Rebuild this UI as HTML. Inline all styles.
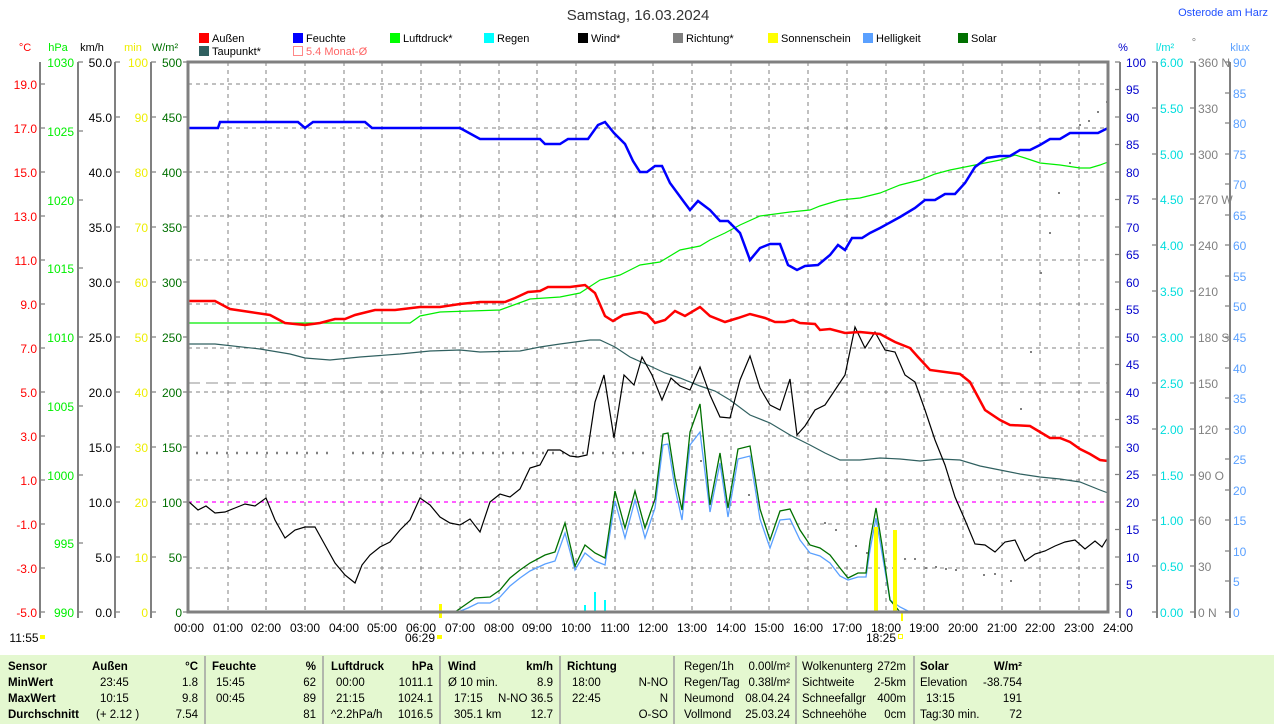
<!DOCTYPE html>
<html><head><meta charset="utf-8"><style>
body{margin:0;background:#fff;width:1274px;height:724px;overflow:hidden}
svg{display:block;font-family:"Liberation Sans",sans-serif}
</style></head><body>
<svg width="1274" height="724" viewBox="0 0 1274 724" xmlns="http://www.w3.org/2000/svg">
<rect width="1274" height="724" fill="#fff"/>
<text x="638" y="20" font-size="15" text-anchor="middle" fill="#333">Samstag, 16.03.2024</text>
<text x="1268" y="16" font-size="11" text-anchor="end" fill="#2050ff">Osterode am Harz</text>

<!-- legend -->
<g font-size="11" fill="#000">
<rect x="199" y="33" width="10" height="10" fill="#f00"/><text x="212" y="42">Außen</text>
<rect x="293" y="33" width="10" height="10" fill="#00f"/><text x="306" y="42">Feuchte</text>
<rect x="390" y="33" width="10" height="10" fill="#0f0"/><text x="403" y="42">Luftdruck*</text>
<rect x="484" y="33" width="10" height="10" fill="#0ff"/><text x="497" y="42">Regen</text>
<rect x="578" y="33" width="10" height="10" fill="#000"/><text x="591" y="42">Wind*</text>
<rect x="673" y="33" width="10" height="10" fill="#808080"/><text x="686" y="42">Richtung*</text>
<rect x="768" y="33" width="10" height="10" fill="#ff0"/><text x="781" y="42">Sonnenschein</text>
<rect x="863" y="33" width="10" height="10" fill="#5aa0ff"/><text x="876" y="42">Helligkeit</text>
<rect x="958" y="33" width="10" height="10" fill="#007000"/><text x="971" y="42">Solar</text>
<rect x="199" y="46" width="10" height="10" fill="#306060"/><text x="212" y="55">Taupunkt*</text>
<rect x="293.5" y="46.5" width="9" height="9" fill="none" stroke="#f88"/><text x="306" y="55" fill="#f66">5.4 Monat-Ø</text>
</g>

<!-- unit labels -->
<g font-size="11">
<text x="25" y="51" fill="#f00" text-anchor="middle">°C</text>
<text x="58" y="51" fill="#0e0" text-anchor="middle">hPa</text>
<text x="92" y="51" fill="#000" text-anchor="middle">km/h</text>
<text x="133" y="51" fill="#ee0" text-anchor="middle">min</text>
<text x="165" y="51" fill="#007000" text-anchor="middle">W/m²</text>
<text x="1123" y="51" fill="#00c" text-anchor="middle">%</text>
<text x="1165" y="51" fill="#0dd" text-anchor="middle">l/m²</text>
<text x="1194" y="46" fill="#808080" text-anchor="middle">°</text>
<text x="1240" y="51" fill="#5aa0ff" text-anchor="middle">klux</text>
</g>

<!-- axis lines -->
<g stroke="#808080" stroke-width="2">
<line x1="40" y1="62" x2="40" y2="618"/>
<line x1="78" y1="62" x2="78" y2="618"/>
<line x1="115" y1="62" x2="115" y2="618"/>
<line x1="151" y1="62" x2="151" y2="618"/>
<line x1="1120" y1="62" x2="1120" y2="618"/>
<line x1="1157" y1="62" x2="1157" y2="618"/>
<line x1="1195" y1="62" x2="1195" y2="618"/>
<line x1="1230" y1="62" x2="1230" y2="618"/>
</g>
<g stroke="#808080" stroke-width="1.3">
<path d="M40 84h5M40 128h5M40 172h5M40 216h5M40 260h5M40 304h5M40 348h5M40 392h5M40 436h5M40 480h5M40 524h5M40 568h5M40 612h5"/>
<path d="M78 62h5M78 131h5M78 200h5M78 268h5M78 337h5M78 406h5M78 475h5M78 543h5M78 612h5"/>
<path d="M115 62h5M115 117h5M115 172h5M115 227h5M115 282h5M115 337h5M115 392h5M115 447h5M115 502h5M115 557h5M115 612h5"/>
<path d="M151 62h5M151 117h5M151 172h5M151 227h5M151 282h5M151 337h5M151 392h5M151 447h5M151 502h5M151 557h5M151 612h5"/>
<path d="M183 62h5M183 117h5M183 172h5M183 227h5M183 282h5M183 337h5M183 392h5M183 447h5M183 502h5M183 557h5M183 612h5"/>
<path d="M1115 62h5M1115 89.5h5M1115 117h5M1115 144.5h5M1115 172h5M1115 199.5h5M1115 227h5M1115 254.5h5M1115 282h5M1115 309.5h5M1115 337h5M1115 364.5h5M1115 392h5M1115 419.5h5M1115 447h5M1115 474.5h5M1115 502h5M1115 529.5h5M1115 557h5M1115 584.5h5M1115 612h5"/>
<path d="M1152 62h5M1152 108h5M1152 154h5M1152 199h5M1152 245h5M1152 291h5M1152 337h5M1152 383h5M1152 429h5M1152 475h5M1152 520h5M1152 566h5M1152 612h5"/>
<path d="M1190 62h5M1190 108h5M1190 154h5M1190 199h5M1190 245h5M1190 291h5M1190 337h5M1190 383h5M1190 429h5M1190 475h5M1190 520h5M1190 566h5M1190 612h5"/>
<path d="M1225 62h5M1225 93h5M1225 123h5M1225 154h5M1225 184h5M1225 215h5M1225 245h5M1225 276h5M1225 306h5M1225 337h5M1225 368h5M1225 398h5M1225 429h5M1225 459h5M1225 490h5M1225 520h5M1225 551h5M1225 581h5M1225 612h5"/>
</g>

<!-- tick labels -->
<g font-size="12" text-anchor="end" fill="#f00">
<text x="37" y="89">19.0</text><text x="37" y="133">17.0</text><text x="37" y="177">15.0</text><text x="37" y="221">13.0</text><text x="37" y="265">11.0</text><text x="37" y="309">9.0</text><text x="37" y="353">7.0</text><text x="37" y="397">5.0</text><text x="37" y="441">3.0</text><text x="37" y="485">1.0</text><text x="37" y="529">-1.0</text><text x="37" y="573">-3.0</text><text x="37" y="617">-5.0</text>
</g>
<g font-size="12" text-anchor="end" fill="#0e0">
<text x="74" y="67">1030</text><text x="74" y="136">1025</text><text x="74" y="205">1020</text><text x="74" y="273">1015</text><text x="74" y="342">1010</text><text x="74" y="411">1005</text><text x="74" y="480">1000</text><text x="74" y="548">995</text><text x="74" y="617">990</text>
</g>
<g font-size="12" text-anchor="end" fill="#000">
<text x="112" y="67">50.0</text><text x="112" y="122">45.0</text><text x="112" y="177">40.0</text><text x="112" y="232">35.0</text><text x="112" y="287">30.0</text><text x="112" y="342">25.0</text><text x="112" y="397">20.0</text><text x="112" y="452">15.0</text><text x="112" y="507">10.0</text><text x="112" y="562">5.0</text><text x="112" y="617">0.0</text>
</g>
<g font-size="12" text-anchor="end" fill="#ee0">
<text x="148" y="67">100</text><text x="148" y="122">90</text><text x="148" y="177">80</text><text x="148" y="232">70</text><text x="148" y="287">60</text><text x="148" y="342">50</text><text x="148" y="397">40</text><text x="148" y="452">30</text><text x="148" y="507">20</text><text x="148" y="562">10</text><text x="148" y="617">0</text>
</g>
<g font-size="12" text-anchor="end" fill="#007000">
<text x="182" y="67">500</text><text x="182" y="122">450</text><text x="182" y="177">400</text><text x="182" y="232">350</text><text x="182" y="287">300</text><text x="182" y="342">250</text><text x="182" y="397">200</text><text x="182" y="452">150</text><text x="182" y="507">100</text><text x="182" y="562">50</text><text x="182" y="617">0</text>
</g>
<g font-size="12" fill="#00c">
<text x="1126" y="67">100</text><text x="1126" y="94">95</text><text x="1126" y="122">90</text><text x="1126" y="149">85</text><text x="1126" y="177">80</text><text x="1126" y="204">75</text><text x="1126" y="232">70</text><text x="1126" y="259">65</text><text x="1126" y="287">60</text><text x="1126" y="314">55</text><text x="1126" y="342">50</text><text x="1126" y="369">45</text><text x="1126" y="397">40</text><text x="1126" y="424">35</text><text x="1126" y="452">30</text><text x="1126" y="479">25</text><text x="1126" y="507">20</text><text x="1126" y="534">15</text><text x="1126" y="562">10</text><text x="1126" y="589">5</text><text x="1126" y="617">0</text>
</g>
<g font-size="12" fill="#0dd">
<text x="1160" y="67">6.00</text><text x="1160" y="113">5.50</text><text x="1160" y="159">5.00</text><text x="1160" y="204">4.50</text><text x="1160" y="250">4.00</text><text x="1160" y="296">3.50</text><text x="1160" y="342">3.00</text><text x="1160" y="388">2.50</text><text x="1160" y="434">2.00</text><text x="1160" y="480">1.50</text><text x="1160" y="525">1.00</text><text x="1160" y="571">0.50</text><text x="1160" y="617">0.00</text>
</g>
<g font-size="12" fill="#808080">
<text x="1198" y="67">360 N</text><text x="1198" y="113">330</text><text x="1198" y="159">300</text><text x="1198" y="204">270 W</text><text x="1198" y="250">240</text><text x="1198" y="296">210</text><text x="1198" y="342">180 S</text><text x="1198" y="388">150</text><text x="1198" y="434">120</text><text x="1198" y="480">90  O</text><text x="1198" y="525">60</text><text x="1198" y="571">30</text><text x="1198" y="617">0  N</text>
</g>
<g font-size="12" fill="#5aa0ff">
<text x="1233" y="67">90</text><text x="1233" y="98">85</text><text x="1233" y="128">80</text><text x="1233" y="159">75</text><text x="1233" y="189">70</text><text x="1233" y="220">65</text><text x="1233" y="250">60</text><text x="1233" y="281">55</text><text x="1233" y="311">50</text><text x="1233" y="342">45</text><text x="1233" y="373">40</text><text x="1233" y="403">35</text><text x="1233" y="434">30</text><text x="1233" y="464">25</text><text x="1233" y="495">20</text><text x="1233" y="525">15</text><text x="1233" y="556">10</text><text x="1233" y="586">5</text><text x="1233" y="617">0</text>
</g>

<!-- grid -->
<g stroke="#808080" stroke-width="1" stroke-dasharray="4,4" fill="none">
<path d="M188 84H1108M188 128H1108M188 172H1108M188 216H1108M188 260H1108M188 304H1108M188 348H1108M188 392H1108M188 436H1108M188 480H1108M188 524H1108M188 568H1108"/>
<path d="M228 62V612M266 62V612M305 62V612M344 62V612M382 62V612M421 62V612M460 62V612M499 62V612M537 62V612M576 62V612M615 62V612M653 62V612M692 62V612M731 62V612M769 62V612M808 62V612M847 62V612M886 62V612M924 62V612M963 62V612M1002 62V612M1040 62V612M1079 62V612"/>
</g>
<line x1="188" y1="383" x2="1108" y2="383" stroke="#909090" stroke-dasharray="12,6"/>
<line x1="188" y1="502" x2="1108" y2="502" stroke="#f0f" stroke-width="1.3" stroke-dasharray="4,4"/>

<!-- direction dots -->
<line x1="196" y1="453" x2="335" y2="453" stroke="#808080" stroke-width="2.5" stroke-dasharray="2,8"/>
<line x1="352" y1="453" x2="645" y2="453" stroke="#808080" stroke-width="2.5" stroke-dasharray="2,8"/>
<g fill="#808080">
<rect x="700" y="460" width="2" height="2"/><rect x="748" y="494" width="2" height="2"/><rect x="824" y="522" width="2" height="2"/><rect x="835" y="529" width="2" height="2"/><rect x="855" y="545" width="2" height="2"/><rect x="866" y="552" width="2" height="2"/><rect x="894" y="555" width="2" height="2"/><rect x="904" y="558" width="2" height="2"/><rect x="914" y="558" width="2" height="2"/><rect x="925" y="567" width="2" height="2"/><rect x="935" y="566" width="2" height="2"/><rect x="945" y="568" width="2" height="2"/><rect x="955" y="569" width="2" height="2"/><rect x="983" y="574" width="2" height="2"/><rect x="994" y="573" width="2" height="2"/><rect x="1010" y="580" width="2" height="2"/><rect x="1020" y="408" width="2" height="2"/><rect x="1030" y="351" width="2" height="2"/><rect x="1040" y="272" width="2" height="2"/><rect x="1049" y="232" width="2" height="2"/><rect x="1058" y="192" width="2" height="2"/><rect x="1069" y="162" width="2" height="2"/><rect x="1069" y="162" width="2" height="2"/><rect x="1079" y="124" width="2" height="2"/><rect x="1088" y="120" width="2" height="2"/><rect x="1097" y="111" width="2" height="2"/><rect x="1106" y="101" width="2" height="2"/>
</g>

<!-- rain bars -->
<g fill="#0ff"><rect x="584" y="605" width="2" height="7"/><rect x="594" y="592" width="2" height="20"/><rect x="604" y="600" width="2" height="12"/></g>

<!-- helligkeit -->
<polyline fill="none" stroke="#5aa0ff" stroke-width="1.3" points="458,612 468,608 478,603 490,603 500,597 510,586 520,578 530,571 545,564 555,561 565,533 575,570 585,553 595,561 605,565 615,501 625,538 635,500 645,538 655,508 663,445 668,444 675,488 682,520 690,445 700,432 710,512 720,463 728,517 738,459 750,456 760,519 770,548 780,520 790,519 800,540 810,553 820,556 830,563 840,576 848,580 858,577 866,577 870,550 876,518 882,553 890,600 900,607 910,612"/>
<!-- solar -->
<polyline fill="none" stroke="#007000" stroke-width="1.3" points="455,612 465,605 475,598 490,597 500,590 510,578 520,570 530,563 545,555 555,552 565,523 575,566 585,545 595,553 605,558 615,491 625,528 635,491 645,528 655,499 663,434 668,433 675,478 682,510 690,432 700,404 710,505 720,453 728,508 738,449 750,446 760,509 770,540 780,511 790,509 800,530 810,545 820,548 830,555 840,568 848,578 858,573 866,573 870,541 876,508 882,545 890,600 900,612"/>

<!-- sunshine -->
<g fill="#ff0"><rect x="874" y="527" width="4" height="85"/><rect x="893" y="530" width="4" height="82"/><rect x="439" y="604" width="3" height="14"/><rect x="901" y="612" width="2" height="9"/></g>

<!-- dew point -->
<polyline fill="none" stroke="#306060" stroke-width="1.2" points="188,344 215,344 260,349 290,354 305,358 330,360 360,357 400,354 430,351 460,350 480,352 520,351 540,347 560,344 590,340 600,340 615,347 630,357 650,366 665,373 680,378 700,386 715,391 730,400 750,415 770,423 790,435 810,445 825,453 840,460 860,460 880,458 900,459 920,461 940,459 960,460 980,466 1000,470 1020,474 1040,477 1060,479 1080,482 1100,490 1108,493"/>
<!-- pressure -->
<polyline fill="none" stroke="#0e0" stroke-width="1.2" points="188,323 410,323 420,316 440,312 500,310 530,299 560,297 580,293 600,280 620,275 640,265 660,262 680,250 700,246 710,240 725,233 740,225 760,216 790,212 810,210 820,206 840,200 860,198 880,193 900,185 920,180 935,174 950,170 975,165 1000,160 1015,155 1025,158 1040,163 1060,165 1080,168 1090,168 1100,165 1108,162"/>
<!-- wind -->
<polyline fill="none" stroke="#000" stroke-width="1.2" points="188,501 198,510 206,506 215,513 225,512 235,508 245,504 255,506 266,498 275,520 285,538 295,530 305,527 315,527 325,545 335,563 345,575 355,583 362,565 370,555 380,547 390,542 400,530 410,520 420,498 430,505 440,517 450,523 460,525 470,519 480,532 490,502 500,494 510,497 520,489 530,468 540,465 548,450 560,450 570,456 578,457 587,455 595,402 604,375 614,438 624,375 634,385 642,357 652,375 662,400 671,378 680,386 690,390 700,367 710,395 720,417 730,418 740,380 750,356 760,388 770,405 780,410 790,379 797,435 805,426 815,410 825,405 835,390 845,375 855,327 865,348 875,332 885,350 895,352 905,375 915,382 925,410 935,440 945,465 955,497 965,520 975,544 985,545 995,552 1005,542 1015,540 1025,561 1035,554 1045,551 1055,546 1065,542 1075,540 1085,549 1095,541 1102,547 1108,537"/>
<!-- temperature -->
<polyline fill="none" stroke="#f00" stroke-width="2.5" points="188,301 215,301 230,309 250,312 270,315 285,323 305,325 320,323 335,319 345,319 355,315 375,310 395,310 420,307 440,307 460,304 480,302 505,302 515,298 528,292 540,291 548,287 570,287 585,285 595,293 605,316 613,321 623,315 640,312 647,314 655,323 665,320 675,311 685,316 700,307 710,316 725,322 738,318 750,314 765,318 775,322 785,322 793,320 800,323 815,324 820,330 830,329 845,333 860,332 880,334 895,342 910,348 918,357 930,370 945,372 960,374 970,382 985,410 1000,420 1010,425 1030,426 1040,432 1050,438 1060,438 1070,442 1080,449 1090,454 1100,460 1108,461"/>
<!-- humidity -->
<polyline fill="none" stroke="#00f" stroke-width="2.5" points="188,128 218,128 220,122 298,122 305,128 313,122 365,122 372,128 460,128 480,139 540,139 545,144 560,144 568,139 588,139 598,125 605,122 614,133 625,144 633,161 640,172 647,172 655,166 662,166 670,183 684,202 690,210 698,201 710,210 720,221 728,221 740,233 750,260 760,248 770,244 780,244 788,265 797,270 805,266 818,265 830,255 838,245 845,250 852,238 862,238 870,233 880,228 900,217 915,208 925,200 935,200 945,194 955,194 965,183 975,167 987,158 1000,156 1010,156 1020,150 1030,150 1040,145 1050,139 1060,139 1070,133 1098,133 1108,128"/>

<!-- plot border -->
<rect x="188" y="62" width="920" height="550" fill="none" stroke="#808080" stroke-width="3"/>

<!-- x labels -->
<g font-size="12" text-anchor="middle" fill="#000">
<text x="189" y="632">00:00</text><text x="228" y="632">01:00</text><text x="266" y="632">02:00</text><text x="305" y="632">03:00</text><text x="344" y="632">04:00</text><text x="382" y="632">05:00</text><text x="421" y="632">06:00</text><text x="460" y="632">07:00</text><text x="499" y="632">08:00</text><text x="537" y="632">09:00</text><text x="576" y="632">10:00</text><text x="615" y="632">11:00</text><text x="653" y="632">12:00</text><text x="692" y="632">13:00</text><text x="731" y="632">14:00</text><text x="769" y="632">15:00</text><text x="808" y="632">16:00</text><text x="847" y="632">17:00</text><text x="886" y="632">18:00</text><text x="924" y="632">19:00</text><text x="963" y="632">20:00</text><text x="1002" y="632">21:00</text><text x="1040" y="632">22:00</text><text x="1079" y="632">23:00</text><text x="1118" y="632">24:00</text>
<text x="420" y="642">06:29</text><text x="881" y="642">18:25</text>
<text x="24" y="642">11:55</text>
</g>
<rect x="40" y="635" width="5" height="4" fill="#ff0"/>
<rect x="437" y="635" width="5" height="4" fill="#ff0"/>
<rect x="898.5" y="634.5" width="4" height="4" fill="none" stroke="#ff0"/>

<!-- table -->
<rect x="0" y="655" width="1274" height="69" fill="#e4f8d0"/>
<g stroke="#a0a0a0" stroke-width="1.5">
<line x1="205" y1="656" x2="205" y2="724"/><line x1="323" y1="656" x2="323" y2="724"/><line x1="440" y1="656" x2="440" y2="724"/><line x1="560" y1="656" x2="560" y2="724"/><line x1="674" y1="656" x2="674" y2="724"/><line x1="796" y1="656" x2="796" y2="724"/><line x1="914" y1="656" x2="914" y2="724"/>
</g>
<g font-size="11.5" fill="#000">
<g font-weight="bold">
<text x="8" y="670">Sensor</text><text x="8" y="686">MinWert</text><text x="8" y="702">MaxWert</text><text x="8" y="718">Durchschnitt</text>
<text x="92" y="670">Außen</text><text x="198" y="670" text-anchor="end">°C</text>
<text x="212" y="670">Feuchte</text><text x="316" y="670" text-anchor="end">%</text>
<text x="331" y="670">Luftdruck</text><text x="433" y="670" text-anchor="end">hPa</text>
<text x="448" y="670">Wind</text><text x="553" y="670" text-anchor="end">km/h</text>
<text x="567" y="670">Richtung</text>
<text x="920" y="670">Solar</text><text x="1022" y="670" text-anchor="end">W/m²</text>
</g>
<text x="100" y="686">23:45</text><text x="198" y="686" text-anchor="end">1.8</text>
<text x="100" y="702">10:15</text><text x="198" y="702" text-anchor="end">9.8</text>
<text x="96" y="718">(+ 2.12 )</text><text x="198" y="718" text-anchor="end">7.54</text>
<text x="216" y="686">15:45</text><text x="316" y="686" text-anchor="end">62</text>
<text x="216" y="702">00:45</text><text x="316" y="702" text-anchor="end">89</text>
<text x="316" y="718" text-anchor="end">81</text>
<text x="336" y="686">00:00</text><text x="433" y="686" text-anchor="end">1011.1</text>
<text x="336" y="702">21:15</text><text x="433" y="702" text-anchor="end">1024.1</text>
<text x="331" y="718">^2.2hPa/h</text><text x="433" y="718" text-anchor="end">1016.5</text>
<text x="448" y="686">Ø 10 min.</text><text x="553" y="686" text-anchor="end">8.9</text>
<text x="454" y="702">17:15</text><text x="553" y="702" text-anchor="end">N-NO 36.5</text>
<text x="454" y="718">305.1 km</text><text x="553" y="718" text-anchor="end">12.7</text>
<text x="572" y="686">18:00</text><text x="668" y="686" text-anchor="end">N-NO</text>
<text x="572" y="702">22:45</text><text x="668" y="702" text-anchor="end">N</text>
<text x="668" y="718" text-anchor="end">O-SO</text>
<text x="684" y="670">Regen/1h</text><text x="790" y="670" text-anchor="end">0.00l/m²</text>
<text x="684" y="686">Regen/Tag</text><text x="790" y="686" text-anchor="end">0.38l/m²</text>
<text x="684" y="702">Neumond</text><text x="790" y="702" text-anchor="end">08.04.24</text>
<text x="684" y="718">Vollmond</text><text x="790" y="718" text-anchor="end">25.03.24</text>
<text x="802" y="670">Wolkenunterg</text><text x="906" y="670" text-anchor="end">272m</text>
<text x="802" y="686">Sichtweite</text><text x="906" y="686" text-anchor="end">2-5km</text>
<text x="802" y="702">Schneefallgr</text><text x="906" y="702" text-anchor="end">400m</text>
<text x="802" y="718">Schneehöhe</text><text x="906" y="718" text-anchor="end">0cm</text>
<text x="920" y="686">Elevation</text><text x="1022" y="686" text-anchor="end">-38.754</text>
<text x="926" y="702">13:15</text><text x="1022" y="702" text-anchor="end">191</text>
<text x="920" y="718">Tag:30 min.</text><text x="1022" y="718" text-anchor="end">72</text>
</g>
</svg>
</body></html>
